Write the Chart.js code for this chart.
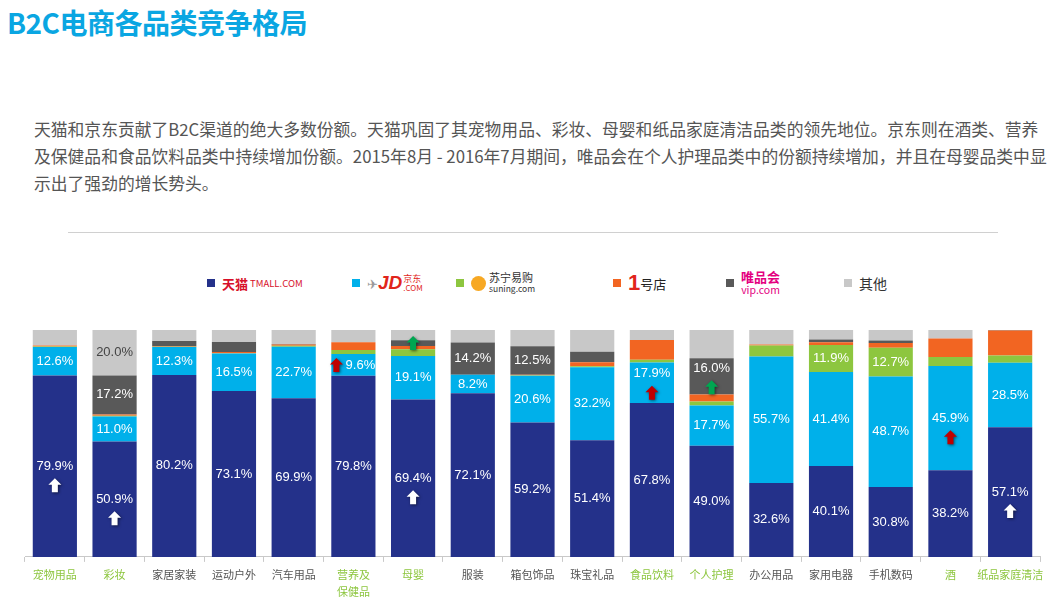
<!DOCTYPE html>
<html>
<head>
<meta charset="utf-8">
<script src="https://cdn.jsdelivr.net/npm/chart.js@4"></script>
<style>
  body { margin: 0; width: 1052px; height: 612px; background: #fff; position: relative; overflow: hidden;
         font-family: "Noto Sans CJK SC", "Noto Sans", sans-serif; }
  #title { position: absolute; left: 7px; top: 2px; font-size: 28px; font-weight: bold; color: #0AA6E2; letter-spacing: -0.5px; }
  .para { position: absolute; left: 34px; font-size: 16.8px; color: #555; white-space: nowrap; }
  #rule { position: absolute; left: 68px; top: 232px; width: 930px; height: 1px; background: #d0d0d0; }
  .lg { position: absolute; top: 270px; height: 26px; display: flex; align-items: center; white-space: nowrap; }
  .sq { width: 8px; height: 8px; margin-right: 7px; }
  #wrap { position: absolute; left: 0; top: 324px; width: 1052px; height: 280px; }
</style>
</head>
<body>
<div id="title">B2C电商各品类竞争格局</div>
<div class="para" style="top:117px">天猫和京东贡献了B2C渠道的绝大多数份额。天猫巩固了其宠物用品、彩妆、母婴和纸品家庭清洁品类的领先地位。京东则在酒类、营养</div>
<div class="para" style="top:144px">及保健品和食品饮料品类中持续增加份额。2015年8月 - 2016年7月期间，唯品会在个人护理品类中的份额持续增加，并且在母婴品类中显</div>
<div class="para" style="top:171px">示出了强劲的增长势头。</div>
<div id="rule"></div>

<div class="lg" style="left:207px"><div class="sq" style="background:#24318A"></div>
  <span style="color:#D7102A;font-size:13px;font-weight:bold">天猫</span><span style="color:#D7102A;font-size:9.5px;margin-left:2px">TMALL.COM</span></div>
<div class="lg" style="left:352px"><div class="sq" style="background:#00B0EA"></div>
  <span style="color:#999;font-size:13px">✈</span><span style="color:#E1251B;font-size:19px;font-weight:bold;font-style:italic;font-family:'Liberation Sans'">JD</span>
  <span style="display:flex;flex-direction:column;line-height:9px;margin-left:1px"><span style="color:#E1251B;font-size:9px">京东</span><span style="color:#E1251B;font-size:8px">.COM</span></span></div>
<div class="lg" style="left:456px"><div class="sq" style="background:#8DC63F"></div>
  <span style="display:inline-block;width:15px;height:15px;border-radius:50%;background:#F7A823;margin-right:3px"></span>
  <span style="display:flex;flex-direction:column;line-height:11px"><span style="color:#333;font-size:11px">苏宁易购</span><span style="color:#333;font-size:8.5px">suning.com</span></span></div>
<div class="lg" style="left:613px"><div class="sq" style="background:#F26522"></div>
  <span style="color:#E1251B;font-size:22px;font-weight:bold;font-family:'Liberation Sans'">1</span><span style="color:#222;font-size:13px">号店</span></div>
<div class="lg" style="left:726px"><div class="sq" style="background:#595959"></div>
  <span style="display:flex;flex-direction:column;line-height:13px;align-items:center"><span style="color:#E4007F;font-size:13px;font-weight:bold">唯品会</span><span style="color:#E4007F;font-size:10.5px">vip.com</span></span></div>
<div class="lg" style="left:844px"><div class="sq" style="background:#C8C8C8"></div>
  <span style="color:#333;font-size:14px">其他</span></div>

<div id="wrap"><canvas id="chart"></canvas></div>

<script>
// categories and shares (%)
const categories = ['宠物用品', '彩妆', '家居家装', '运动户外', '汽车用品', ['营养及', '保健品'], '母婴', '服装',
  '箱包饰品', '珠宝礼品', '食品饮料', '个人护理', '办公用品', '家用电器', '手机数码', '酒', '纸品家庭清洁'];
const greenCats = [0, 1, 5, 6, 10, 11, 15, 16];

const tmall  = [79.9, 50.9, 80.2, 73.1, 69.9, 79.8, 69.4, 72.1, 59.2, 51.4, 67.8, 49.0, 32.6, 40.1, 30.8, 38.2, 57.1];
const jd     = [12.6, 11.0, 12.3, 16.5, 22.7, 9.6, 19.1, 8.2, 20.6, 32.2, 17.9, 17.7, 55.7, 41.4, 48.7, 45.9, 28.5];
const suning = [0.2, 0.3, 0.1, 0.2, 0.5, 1.8, 3.0, 0, 0.3, 0.4, 1.2, 1.8, 4.9, 11.9, 12.7, 4.0, 3.2];
const yhd    = [0.5, 0.6, 0.2, 0.5, 0.5, 3.4, 1.5, 0, 0.2, 1.8, 8.7, 3.1, 0.4, 1.2, 2.1, 8.1, 11.0];
const vip    = [0, 17.2, 2.4, 4.4, 0.2, 0, 2.5, 14.2, 12.5, 4.6, 0, 16.0, 0, 1.2, 1.1, 0, 0.2];
const other  = [6.8, 20.0, 4.8, 5.3, 6.2, 5.4, 4.5, 5.5, 7.2, 9.6, 4.4, 12.4, 6.4, 4.2, 4.6, 3.8, 0];

// which segments get a value label (min value per series)
const labelMin = [0, 0, 8, Infinity, 8, 15];

// trend arrows: series, category, colour, where
const arrows = [
  { ds: 0, i: 0, color: '#fff', pos: 'below' },
  { ds: 0, i: 1, color: '#fff', pos: 'below' },
  { ds: 0, i: 6, color: '#fff', pos: 'below' },
  { ds: 0, i: 16, color: '#fff', pos: 'below' },
  { ds: 1, i: 5, color: '#C00000', pos: 'left' },
  { ds: 1, i: 10, color: '#C00000', pos: 'below', shift: 9 },
  { ds: 1, i: 15, color: '#C00000', pos: 'below' },
  { ds: 4, i: 6, color: '#00A651', pos: 'center' },
  { ds: 4, i: 11, color: '#00A651', pos: 'below', shift: 8 },
];

function drawArrow(ctx, x, y, color) {
  ctx.save();
  ctx.shadowColor = 'rgba(0,0,0,0.55)';
  ctx.shadowBlur = 3;
  ctx.shadowOffsetX = 1;
  ctx.shadowOffsetY = 1;
  ctx.fillStyle = color;
  ctx.beginPath();
  ctx.moveTo(x, y - 7);
  ctx.lineTo(x + 6.5, y - 0.5);
  ctx.lineTo(x + 3, y - 0.5);
  ctx.lineTo(x + 3, y + 7);
  ctx.lineTo(x - 3, y + 7);
  ctx.lineTo(x - 3, y - 0.5);
  ctx.lineTo(x - 6.5, y - 0.5);
  ctx.closePath();
  ctx.fill();
  ctx.restore();
}

const segLabels = {
  id: 'segLabels',
  afterDatasetsDraw(chart) {
    const ctx = chart.ctx;
    ctx.save();
    ctx.font = '13px "Liberation Sans", Arial, sans-serif';
    ctx.textAlign = 'center';
    ctx.textBaseline = 'middle';
    chart.data.datasets.forEach((ds, d) => {
      const meta = chart.getDatasetMeta(d);
      meta.data.forEach((bar, i) => {
        const v = ds.data[i];
        const cy = (bar.y + bar.base) / 2;
        const a = arrows.find(o => o.ds === d && o.i === i);
        let ly = cy, lx = bar.x;
        if (a && a.shift) ly -= a.shift;
        if (a && a.pos === 'left') lx += 7;
        if (v >= labelMin[d]) {
          ctx.fillStyle = d === 5 ? '#444' : '#fff';
          ctx.fillText(v.toFixed(1) + '%', lx, ly);
        }
        if (a) {
          if (a.pos === 'below') drawArrow(ctx, bar.x, ly + 19, a.color);
          else if (a.pos === 'left') drawArrow(ctx, bar.x - 17, cy, a.color);
          else drawArrow(ctx, bar.x, cy, a.color);
        }
      });
    });
    ctx.restore();
  }
};

const series = [
  { label: '天猫', data: tmall, backgroundColor: '#24318A' },
  { label: '京东', data: jd, backgroundColor: '#00B0EA' },
  { label: '苏宁易购', data: suning, backgroundColor: '#8DC63F' },
  { label: '1号店', data: yhd, backgroundColor: '#F26522' },
  { label: '唯品会', data: vip, backgroundColor: '#595959' },
  { label: '其他', data: other, backgroundColor: '#C8C8C8' },
];

new Chart(document.getElementById('chart'), {
  type: 'bar',
  data: {
    labels: categories,
    datasets: series.map(s => ({ ...s, borderWidth: 0, categoryPercentage: 1, barPercentage: 0.74 })),
  },
  options: {
    responsive: true,
    maintainAspectRatio: false,
    animation: false,
    layout: { padding: { left: 25, right: 12, top: 6, bottom: 0 } },
    plugins: { legend: { display: false }, tooltip: { enabled: false } },
    scales: {
      x: {
        stacked: true,
        border: { color: '#c9c9c9' },
        grid: { offset: true, drawOnChartArea: false, tickLength: 5, color: '#c9c9c9' },
        ticks: {
          padding: 4,
          font: { size: 11, family: '"Noto Sans CJK SC", sans-serif', lineHeight: 1.55 },
          color: c => greenCats.includes(c.index) ? '#8DC63F' : '#555',
          maxRotation: 0,
          autoSkip: false,
        },
      },
      y: { stacked: true, display: false, min: 0, max: 100 },
    },
  },
  plugins: [segLabels],
});
</script>
</body>
</html>
